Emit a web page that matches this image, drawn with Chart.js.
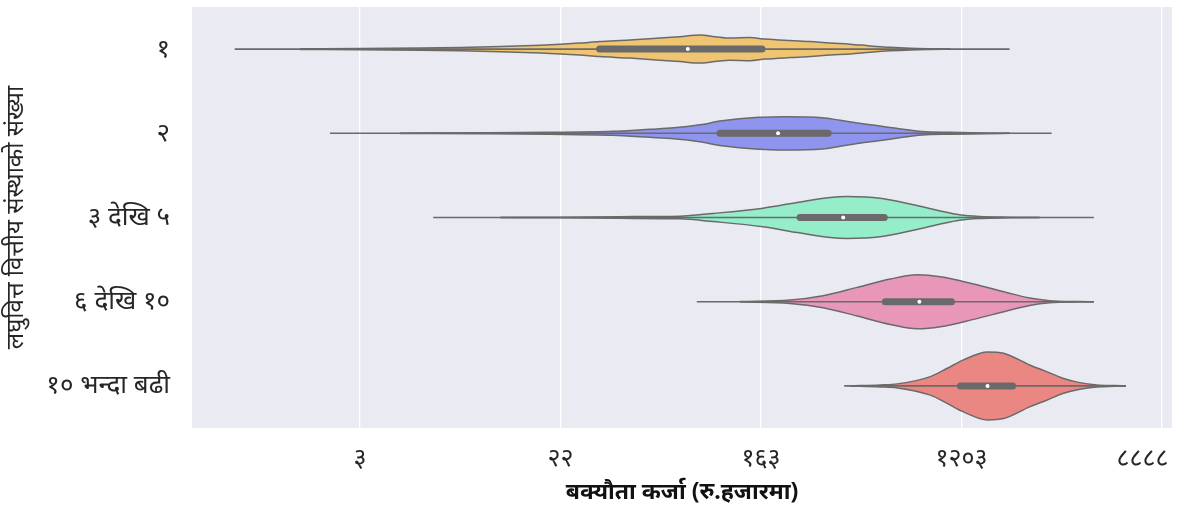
<!DOCTYPE html>
<html>
<head>
<meta charset="utf-8">
<script src="https://cdn.jsdelivr.net/npm/chart.js@4.4.1/dist/chart.umd.min.js"></script>
<style>
  html, body { margin: 0; padding: 0; background: #ffffff; }
  #wrap { width: 1184px; height: 506px; }
</style>
</head>
<body>
<div id="wrap"><canvas id="violinChart" width="1184" height="506"></canvas></div>
<script>
// श्रेणी (y अक्ष)
var categories = ['१', '२', '३ देखि ५', '६ देखि १०', '१० भन्दा बढी'];

// x अक्ष: ln(रु. हजार) मा
var tickValues = [1.1, 3.1, 5.1, 7.1, 9.1];
var tickLabels = ['३', '२२', '१६३', '१२०३', '८८८८'];

// KDE आकार: x (ln) र आधा चौडाइ (श्रेणी एकाइमा)
var kde1X = [0.50, 1.10, 1.70, 2.10, 2.50, 2.90, 3.10, 3.29, 3.49, 3.79, 4.09, 4.29, 4.49, 4.64, 4.79, 4.99, 5.14, 5.39, 5.59, 5.79, 5.99, 6.19, 6.39, 6.59, 6.79, 6.99];
var kde1W = [0.004, 0.008, 0.014, 0.020, 0.030, 0.045, 0.057, 0.071, 0.089, 0.107, 0.131, 0.148, 0.166, 0.148, 0.131, 0.137, 0.119, 0.101, 0.089, 0.071, 0.059, 0.038, 0.021, 0.010, 0.004, 0.0];

var kde2X = [1.50, 2.30, 2.99, 3.62, 3.99, 4.23, 4.49, 4.71, 5.08, 5.34, 5.71, 5.89, 6.08, 6.27, 6.45, 6.71, 6.99, 7.33, 7.58];
var kde2W = [0.002, 0.006, 0.012, 0.024, 0.048, 0.065, 0.101, 0.148, 0.190, 0.198, 0.186, 0.154, 0.119, 0.089, 0.059, 0.021, 0.011, 0.005, 0.0];

var kde3X = [2.50, 3.10, 3.69, 4.29, 4.62, 5.12, 5.46, 5.79, 5.96, 6.29, 6.62, 6.88, 7.08, 7.28, 7.58, 7.88];
var kde3W = [0.001, 0.004, 0.010, 0.015, 0.048, 0.110, 0.178, 0.238, 0.249, 0.229, 0.151, 0.080, 0.032, 0.012, 0.004, 0.0];

var kde4X = [4.89, 5.39, 5.72, 6.06, 6.39, 6.66, 6.89, 7.22, 7.55, 7.78, 7.98, 8.28, 8.42];
var kde4W = [0.002, 0.020, 0.071, 0.170, 0.270, 0.321, 0.297, 0.210, 0.110, 0.044, 0.012, 0.002, 0.0];

var kde5X = [5.99, 6.29, 6.46, 6.79, 6.96, 7.12, 7.36, 7.52, 7.78, 7.95, 8.11, 8.28, 8.45, 8.63, 8.74];
var kde5W = [0.002, 0.012, 0.024, 0.110, 0.210, 0.309, 0.404, 0.388, 0.249, 0.170, 0.091, 0.039, 0.012, 0.004, 0.0];

// बक्स: तल्लो/माथिल्लो ह्विस्कर, Q1, मध्यिका, Q3
var whiskerLow  = [-0.15, 0.80, 1.83, 4.46, 5.93];
var whiskerHigh = [7.58, 8.00, 8.42, 8.42, 8.74];
var q1Values     = [3.49, 4.69, 5.49, 6.34, 7.09];
var medianValues = [4.37, 5.27, 5.92, 6.68, 7.36];
var q3Values     = [5.11, 5.77, 6.33, 7.00, 7.61];

var violinColors = ['#F0C571', '#8F95EE', '#95EDC9', '#E897B8', '#EA8783'];

var kdeX = [kde1X, kde2X, kde3X, kde4X, kde5X];
var kdeW = [kde1W, kde2W, kde3W, kde4W, kde5W];

var lineGray = '#6a6a6a';
var fontFamily = '"Noto Sans", "Noto Sans Devanagari", "Lohit Devanagari", "FreeSans", "DejaVu Sans", sans-serif';

document.addEventListener('DOMContentLoaded', function() {
    initViolinChart();
});

function buildDatasets() {
    var datasets = [];
    categories.forEach(function(cat, i) {
        var upper = kdeX[i].map(function(x, k) { return { x: x, y: i - kdeW[i][k] }; });
        var lower = kdeX[i].map(function(x, k) { return { x: x, y: i + kdeW[i][k] }; });
        datasets.push({
            data: upper,
            borderColor: lineGray,
            borderWidth: 1.5,
            pointRadius: 0,
            cubicInterpolationMode: 'monotone',
            fill: false,
            order: 3
        });
        datasets.push({
            data: lower,
            borderColor: lineGray,
            borderWidth: 1.5,
            backgroundColor: violinColors[i],
            pointRadius: 0,
            cubicInterpolationMode: 'monotone',
            fill: '-1',
            order: 3
        });
    });
    categories.forEach(function(cat, i) {
        // ह्विस्कर
        datasets.push({
            data: [{ x: whiskerLow[i], y: i }, { x: whiskerHigh[i], y: i }],
            borderColor: lineGray,
            borderWidth: 1.6,
            pointRadius: 0,
            fill: false,
            order: 2
        });
        // बक्स
        datasets.push({
            data: [{ x: q1Values[i], y: i }, { x: q3Values[i], y: i }],
            borderColor: lineGray,
            borderWidth: 7,
            borderCapStyle: 'round',
            pointRadius: 0,
            fill: false,
            order: 1
        });
        // मध्यिका
        datasets.push({
            data: [{ x: medianValues[i], y: i }],
            showLine: false,
            pointRadius: 2,
            pointBackgroundColor: '#ffffff',
            pointBorderWidth: 0,
            order: 0
        });
    });
    return datasets;
}

var plotBackground = {
    id: 'plotBackground',
    beforeDraw: function(chart) {
        var a = chart.chartArea;
        var ctx = chart.ctx;
        ctx.save();
        ctx.fillStyle = '#EAEAF2';
        ctx.fillRect(a.left, a.top, a.right - a.left, a.bottom - a.top);
        ctx.restore();
    }
};

function initViolinChart() {
    var ctx = document.getElementById('violinChart');
    if (!ctx) return;

    new Chart(ctx, {
        type: 'line',
        data: { datasets: buildDatasets() },
        plugins: [plotBackground],
        options: {
            responsive: false,
            animation: false,
            layout: { padding: { top: 7, right: 12, left: 0, bottom: 0 } },
            plugins: {
                legend: { display: false },
                tooltip: { enabled: false }
            },
            scales: {
                x: {
                    type: 'linear',
                    min: -0.576,
                    max: 9.2,
                    afterBuildTicks: function(scale) {
                        scale.ticks = tickValues.map(function(v) { return { value: v }; });
                    },
                    afterFit: function(scale) {
                        scale.height = 78;
                        scale.paddingLeft = 0;
                        scale.paddingRight = 0;
                    },
                    border: { display: false },
                    grid: { color: '#ffffff', lineWidth: 1.3, drawTicks: false },
                    ticks: {
                        padding: 16,
                        color: '#262626',
                        font: { family: fontFamily, size: 25 },
                        callback: function(value, index) {
                            // अन्तिम लेबल किनारामा नकाटियोस्
                            if (index === tickLabels.length - 1) return tickLabels[index] + '\u00A0\u00A0\u00A0\u00A0\u00A0\u00A0';
                            return tickLabels[index];
                        }
                    },
                    title: {
                        display: true,
                        text: 'बक्यौता कर्जा (रु.हजारमा)',
                        color: '#111111',
                        font: { family: fontFamily, size: 23, weight: 'bold' },
                        padding: { top: 0, bottom: 0 }
                    }
                },
                y: {
                    type: 'linear',
                    min: -0.5,
                    max: 4.5,
                    reverse: true,
                    afterBuildTicks: function(scale) {
                        scale.ticks = categories.map(function(c, i) { return { value: i }; });
                    },
                    afterFit: function(scale) {
                        scale.width = 192;
                        scale.paddingTop = 0;
                        scale.paddingBottom = 0;
                    },
                    border: { display: false },
                    grid: { display: false, drawTicks: false },
                    ticks: {
                        padding: 22,
                        color: '#262626',
                        font: { family: fontFamily, size: 26 },
                        callback: function(value) { return categories[value]; }
                    },
                    title: {
                        display: true,
                        text: 'लघुवित्त वित्तीय संस्थाको संख्या',
                        color: '#262626',
                        font: { family: fontFamily, size: 24 },
                        padding: { top: 2, bottom: 0 }
                    }
                }
            }
        }
    });
}
</script>
</body>
</html>
